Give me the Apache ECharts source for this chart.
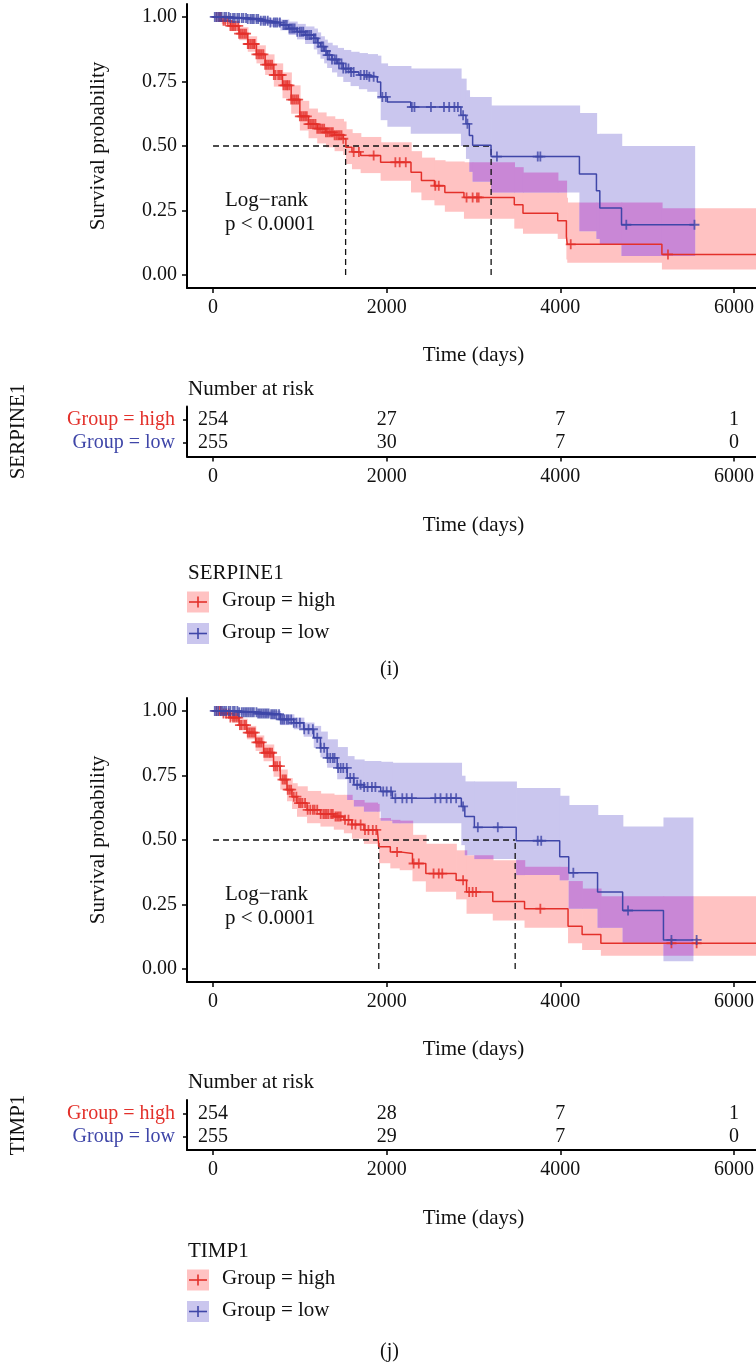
<!DOCTYPE html>
<html>
<head>
<meta charset="utf-8">
<script src="https://cdn.jsdelivr.net/npm/echarts@6/dist/echarts.min.js"></script>
<style>
  html, body { margin: 0; padding: 0; background: #ffffff; }
  #chart { width: 756px; height: 1365px; }
</style>
</head>
<body>
<div id="chart"></div>
<script>
// ---------- Kaplan–Meier estimates: SERPINE1 ----------
const serpHighTime  = [0,100,200,300,400,500,600,700,800,900,1000,1100,1200,1300,1400,1500,1530,1600,1700,1930,2280,2400,2550,2670,2890,3470,3570,3970,4070,4080,5170];
const serpHighSurv  = [1,.985,.965,.935,.895,.855,.815,.775,.735,.68,.615,.585,.567,.553,.542,.528,.495,.477,.463,.437,.398,.366,.346,.32,.301,.272,.24,.21,.15,.119,.08];
const serpHighLower = [1,.972,.945,.91,.865,.82,.775,.73,.685,.625,.56,.53,.51,.495,.48,.465,.43,.41,.395,.365,.32,.29,.27,.245,.218,.18,.16,.14,.06,.048,.022];
const serpHighUpper = [1,.997,.985,.96,.925,.89,.855,.82,.785,.735,.675,.645,.63,.615,.605,.595,.565,.55,.535,.515,.48,.455,.445,.44,.437,.418,.397,.366,.30,.281,.259];
const serpHighEnd = 6300;
const serpHighCensor = [40,70,90,120,140,170,200,220,240,260,290,300,320,340,360,380,400,410,430,450,470,480,500,520,540,560,580,600,620,640,660,680,700,720,750,770,790,810,830,850,860,880,900,920,940,960,980,1000,1020,1040,1060,1080,1100,1120,1140,1160,1180,1200,1220,1240,1260,1280,1300,1320,1340,1360,1380,1400,1420,1440,1460,1480,1500,1620,1680,1850,2100,2150,2220,2560,2600,2920,2990,3040,3060,4120,5240];

const serpLowTime  = [0,200,400,550,650,775,870,967,1060,1160,1200,1237,1280,1314,1370,1430,1500,1584,1680,1776,1892,1931,2008,2277,2855,2913,2952,2990,3202,4220,4416,4455,4705];
const serpLowSurv  = [1,.996,.992,.985,.978,.969,.955,.943,.93,.917,.9,.885,.868,.852,.835,.82,.80,.787,.775,.768,.748,.69,.67,.651,.619,.586,.541,.503,.459,.392,.327,.26,.195];
const serpLowLower = [1,.99,.983,.972,.962,.948,.93,.913,.895,.874,.855,.838,.82,.802,.785,.768,.748,.732,.72,.71,.682,.60,.575,.547,.50,.45,.40,.362,.32,.17,.14,.12,.074];
const serpLowUpper = [1,1,1,.998,.994,.99,.982,.973,.963,.955,.94,.925,.912,.9,.89,.88,.872,.865,.86,.856,.85,.82,.81,.80,.761,.716,.69,.69,.657,.628,.547,.547,.50];
const serpLowEnd = 5545;
const serpLowCensor = [20,40,60,80,100,130,150,180,200,230,250,280,300,330,350,380,400,430,450,470,500,520,550,580,600,630,660,700,720,740,770,810,830,850,880,900,920,940,970,1000,1020,1040,1070,1090,1110,1130,1160,1180,1210,1250,1270,1300,1320,1340,1370,1400,1420,1450,1480,1500,1530,1560,1590,1620,1700,1740,1770,1800,1850,1950,1990,2290,2320,2510,2660,2720,2780,2820,2880,2930,3270,3740,3770,4760,5545];

const serpMedian = [1527, 3203];
const serpRiskHigh = [254, 27, 7, 1];
const serpRiskLow  = [255, 30, 7, 0];

// ---------- Kaplan–Meier estimates: TIMP1 ----------
const timpHighTime  = [0,100,197,300,390,490,582,697,774,852,910,967,1083,1237,1391,1507,1600,1738,1892,1911,2042,2150,2297,2451,2800,2920,3222,3588,4089,4251,4467];
const timpHighSurv  = [1,.99,.974,.945,.916,.878,.838,.786,.734,.695,.668,.643,.617,.601,.591,.578,.56,.539,.533,.474,.454,.448,.409,.370,.344,.299,.262,.234,.166,.134,.100];
const timpHighLower = [1,.98,.961,.925,.89,.845,.805,.745,.695,.65,.62,.59,.565,.552,.54,.526,.505,.485,.475,.41,.39,.383,.34,.30,.27,.214,.188,.16,.10,.074,.052];
const timpHighUpper = [1,1,.994,.97,.942,.905,.87,.825,.773,.74,.72,.708,.69,.68,.675,.675,.655,.645,.64,.585,.578,.575,.52,.485,.46,.441,.422,.396,.341,.312,.282];
const timpHighEnd = 6300;
const timpHighCensor = [40,70,90,120,150,180,200,230,250,270,290,310,330,360,380,400,420,440,460,480,500,520,540,560,590,610,630,650,660,680,700,720,740,770,800,820,840,860,880,900,930,960,990,1010,1030,1060,1090,1120,1150,1170,1200,1240,1270,1290,1310,1330,1360,1380,1410,1430,1450,1470,1520,1560,1600,1640,1700,1750,1790,1840,1880,2120,2310,2370,2540,2600,2640,2880,2950,2990,3030,3770,5280,5570];

const timpLowTime  = [0,300,505,659,774,929,1044,1160,1237,1314,1430,1545,1622,1738,1931,2066,2860,2900,3010,3492,3993,4097,4429,4718,5188];
const timpLowSurv  = [1,.995,.99,.987,.967,.954,.929,.896,.857,.818,.779,.740,.714,.705,.688,.662,.630,.591,.549,.497,.435,.373,.299,.227,.113];
const timpLowLower = [1,.985,.975,.968,.945,.929,.9,.857,.82,.78,.735,.655,.63,.61,.575,.565,.48,.441,.426,.364,.344,.234,.16,.102,.03];
const timpLowUpper = [1,1,1,1,.987,.974,.955,.942,.92,.89,.86,.825,.812,.806,.803,.799,.749,.727,.727,.701,.671,.636,.597,.552,.587];
const timpLowEnd = 5525;
const timpLowCensor = [20,40,60,90,110,130,150,180,200,230,250,280,300,330,350,370,390,410,430,450,470,500,520,540,560,580,600,620,640,670,690,710,730,760,780,800,820,850,870,900,930,960,1000,1050,1100,1150,1200,1240,1280,1320,1350,1380,1400,1440,1470,1500,1540,1580,1620,1660,1700,1740,1780,1830,1870,1960,2000,2050,2100,2180,2230,2290,2560,2620,2690,2740,2800,2880,3050,3280,3740,3780,4150,4780,5280,5570];

const timpMedian = [1909, 3480];
const timpRiskHigh = [254, 28, 7, 1];
const timpRiskLow  = [255, 29, 7, 0];

// ---------- shared labels and ticks ----------
const riskTimes = [0, 2000, 4000, 6000];
const timeTicks = [0, 2000, 4000, 6000];
const survTicks = [0, 0.25, 0.5, 0.75, 1];
const groupLabels = ['Group = high', 'Group = low'];
const pvalueText = ['Log\u2212rank', 'p < 0.0001'];

// ---------- styling ----------
const FONT = "'Liberation Serif','DejaVu Serif',serif";
const FS = 20, FS_TITLE = 21;
const INK = '#111111';
const RED = '#E3302A', BLUE = '#3F46A8';
const PINK = '#FFC2C2', LAV = '#CAC6EE', PURP = '#C987D6';
const PLUS = 'path://M-5,-0.9L5,-0.9L5,0.9L-5,0.9Z M-0.9,-5L0.9,-5L0.9,5L-0.9,5Z';

const panels = [
  { title: 'SERPINE1', tag: '(i)',
    high: { time: serpHighTime, surv: serpHighSurv, lower: serpHighLower, upper: serpHighUpper, end: serpHighEnd, censor: serpHighCensor },
    low:  { time: serpLowTime,  surv: serpLowSurv,  lower: serpLowLower,  upper: serpLowUpper,  end: serpLowEnd,  censor: serpLowCensor },
    median: serpMedian, riskHigh: serpRiskHigh, riskLow: serpRiskLow,
    kmTop: 4, tableTop: 406.5, legendTop: 574, tagY: 671 },
  { title: 'TIMP1', tag: '(j)',
    high: { time: timpHighTime, surv: timpHighSurv, lower: timpHighLower, upper: timpHighUpper, end: timpHighEnd, censor: timpHighCensor },
    low:  { time: timpLowTime,  surv: timpLowSurv,  lower: timpLowLower,  upper: timpLowUpper,  end: timpLowEnd,  censor: timpLowCensor },
    median: timpMedian, riskHigh: timpRiskHigh, riskLow: timpRiskLow,
    kmTop: 698, tableTop: 1100, legendTop: 1252, tagY: 1353 }
];

// step-function value at time t
function stepAt(time, vals, t) {
  let v = vals[0];
  for (let i = 0; i < time.length; i++) { if (time[i] <= t) v = vals[i]; else break; }
  return v;
}
// confidence band as step rectangles [t0, t1, lower, upper]
function bandRects(g) {
  return g.time.map((t, i) => [t, i + 1 < g.time.length ? g.time[i + 1] : g.end, g.lower[i], g.upper[i]]);
}
// region shared by two bands
function overlapRects(a, b) {
  const start = Math.max(a[0][0], b[0][0]);
  const stop = Math.min(a[a.length - 1][1], b[b.length - 1][1]);
  const cuts = Array.from(new Set(a.concat(b).flatMap(r => [r[0], r[1]])))
    .filter(t => t >= start && t <= stop).sort((x, y) => x - y);
  const find = (rs, t) => rs.find(r => t >= r[0] && t < r[1]);
  const out = [];
  for (let i = 0; i + 1 < cuts.length; i++) {
    const mid = (cuts[i] + cuts[i + 1]) / 2;
    const ra = find(a, mid), rb = find(b, mid);
    if (!ra || !rb) continue;
    const lo = Math.max(ra[2], rb[2]), hi = Math.min(ra[3], rb[3]);
    if (hi > lo) out.push([cuts[i], cuts[i + 1], lo, hi]);
  }
  return out;
}
function bandSeries(rects, color, axis) {
  return {
    type: 'custom', xAxisIndex: axis, yAxisIndex: axis, z: 1, silent: true,
    data: rects, encode: { x: [0, 1], y: [2, 3] },
    renderItem: (params, api) => {
      const p0 = api.coord([api.value(0), api.value(3)]);
      const p1 = api.coord([api.value(1), api.value(2)]);
      return { type: 'rect',
        shape: { x: p0[0], y: p0[1], width: p1[0] - p0[0] + 0.7, height: p1[1] - p0[1] },
        style: { fill: color } };
    }
  };
}
function curveSeries(g, color, axis) {
  const pts = g.time.map((t, i) => [t, g.surv[i]]);
  pts.push([g.end, g.surv[g.surv.length - 1]]);
  return { type: 'line', step: 'end', xAxisIndex: axis, yAxisIndex: axis, z: 3,
    data: pts, symbol: 'none', lineStyle: { color: color, width: 1.5 } };
}
function censorSeries(g, color, axis) {
  return { type: 'scatter', xAxisIndex: axis, yAxisIndex: axis, z: 4,
    symbol: PLUS, symbolSize: 10,
    data: g.censor.map(t => [t, stepAt(g.time, g.surv, t)]),
    itemStyle: { color: color } };
}
function dashSeries(data, axis) {
  return { type: 'line', xAxisIndex: axis, yAxisIndex: axis, z: 2, symbol: 'none', data: data,
    lineStyle: { color: INK, width: 1.3, type: [6, 4] } };
}

const grids = [], xAxes = [], yAxes = [], series = [], graphics = [];

function timeAxis(gridIndex, nameGap) {
  return {
    gridIndex: gridIndex, type: 'value', min: -300, max: 6300,
    axisLine: { show: true, onZero: false, lineStyle: { color: '#000', width: 2 } },
    axisTick: { show: true, length: 5, customValues: timeTicks, lineStyle: { color: '#000', width: 1.5 } },
    axisLabel: { customValues: timeTicks, margin: 10, fontFamily: FONT, fontSize: FS, color: INK,
      formatter: v => String(v) },
    splitLine: { show: false },
    name: 'Time (days)', nameLocation: 'middle', nameGap: nameGap,
    nameTextStyle: { fontFamily: FONT, fontSize: FS_TITLE, color: INK }
  };
}

panels.forEach((p, k) => {
  const km = 2 * k, tb = 2 * k + 1;
  grids.push({ left: 187, top: p.kmTop, width: 573, height: 284, outerBoundsMode: 'none' });
  grids.push({ left: 187, top: p.tableTop, width: 573, height: 50, outerBoundsMode: 'none' });

  xAxes.push(timeAxis(km, 57));
  xAxes.push(timeAxis(tb, 58));
  yAxes.push({
    gridIndex: km, type: 'value', min: -0.05, max: 1.05,
    axisLine: { show: true, onZero: false, lineStyle: { color: '#000', width: 2 } },
    axisTick: { show: true, length: 5, customValues: survTicks, lineStyle: { color: '#000', width: 1.5 } },
    axisLabel: { customValues: survTicks, margin: 10, fontFamily: FONT, fontSize: FS, color: INK,
      formatter: v => v.toFixed(2) },
    splitLine: { show: false },
    name: 'Survival probability', nameLocation: 'middle', nameGap: 78,
    nameTextStyle: { fontFamily: FONT, fontSize: FS_TITLE, color: INK }
  });
  yAxes.push({
    gridIndex: tb, type: 'value', min: 0.4, max: 2.6,
    axisLine: { show: true, onZero: false, lineStyle: { color: '#000', width: 2 } },
    axisTick: { show: true, length: 4, customValues: [1, 2], lineStyle: { color: '#000', width: 1.5 } },
    axisLabel: { customValues: [1, 2], margin: 12, fontFamily: FONT, fontSize: FS,
      formatter: v => v === 2 ? '{h|' + groupLabels[0] + '}' : '{l|' + groupLabels[1] + '}',
      rich: { h: { color: RED, fontFamily: FONT, fontSize: FS }, l: { color: BLUE, fontFamily: FONT, fontSize: FS } } },
    splitLine: { show: false },
    name: p.title, nameLocation: 'middle', nameGap: 158,
    nameTextStyle: { fontFamily: FONT, fontSize: FS_TITLE, color: INK }
  });

  // confidence bands
  const hr = bandRects(p.high), lr = bandRects(p.low);
  series.push(bandSeries(hr, PINK, km));
  series.push(bandSeries(lr, LAV, km));
  series.push(bandSeries(overlapRects(hr, lr), PURP, km));
  // median survival guides
  const mMax = Math.max.apply(null, p.median);
  series.push(dashSeries([[0, 0.5], [mMax, 0.5]], km));
  p.median.forEach(m => series.push(dashSeries([[m, 0], [m, 0.5]], km)));
  // survival curves and censoring marks
  series.push(curveSeries(p.high, RED, km));
  series.push(curveSeries(p.low, BLUE, km));
  series.push(censorSeries(p.high, RED, km));
  series.push(censorSeries(p.low, BLUE, km));
  // number-at-risk table
  [[p.riskHigh, 2], [p.riskLow, 1]].forEach(([vals, row]) => {
    series.push({ type: 'scatter', xAxisIndex: tb, yAxisIndex: tb, symbolSize: 0,
      itemStyle: { color: INK },
      data: riskTimes.map((t, i) => [t, row, vals[i]]),
      label: { show: true, position: 'inside', formatter: q => String(q.value[2]),
        fontFamily: FONT, fontSize: FS, color: INK, textBorderWidth: 0, opacity: 1 } });
  });

  // log-rank annotation
  graphics.push({ type: 'text', left: 225, top: p.kmTop + 184,
    style: { text: pvalueText.join('\n'), font: FS_TITLE + 'px ' + FONT, fill: INK, lineHeight: 24 } });
  // table heading
  graphics.push({ type: 'text', left: 188, top: p.tableTop - 28,
    style: { text: 'Number at risk', font: FS_TITLE + 'px ' + FONT, fill: INK } });
  // legend
  const L = p.legendTop;
  graphics.push({ type: 'text', left: 188, top: L - 11, style: { text: p.title, font: FS_TITLE + 'px ' + FONT, fill: INK } });
  [[PINK, RED, groupLabels[0], L + 28], [LAV, BLUE, groupLabels[1], L + 59.5]].forEach(([bg, fg, label, cy]) => {
    graphics.push({ type: 'rect', shape: { x: 187, y: cy - 10.5, width: 22, height: 21 }, style: { fill: bg } });
    graphics.push({ type: 'line', shape: { x1: 189, y1: cy, x2: 207, y2: cy }, style: { stroke: fg, lineWidth: 1.6 } });
    graphics.push({ type: 'line', shape: { x1: 198, y1: cy - 5.5, x2: 198, y2: cy + 5.5 }, style: { stroke: fg, lineWidth: 1.6 } });
    graphics.push({ type: 'text', left: 222, top: cy - 12, style: { text: label, font: FS_TITLE + 'px ' + FONT, fill: INK } });
  });
  // panel tag
  graphics.push({ type: 'text', left: 380, top: p.tagY - 11, style: { text: p.tag, font: FS + 'px ' + FONT, fill: INK } });
});

const chart = echarts.init(document.getElementById('chart'), null, { renderer: 'canvas' });
chart.setOption({
  animation: false,
  backgroundColor: '#ffffff',
  textStyle: { fontFamily: FONT },
  grid: grids, xAxis: xAxes, yAxis: yAxes,
  series: series,
  graphic: graphics
});
</script>
</body>
</html>
